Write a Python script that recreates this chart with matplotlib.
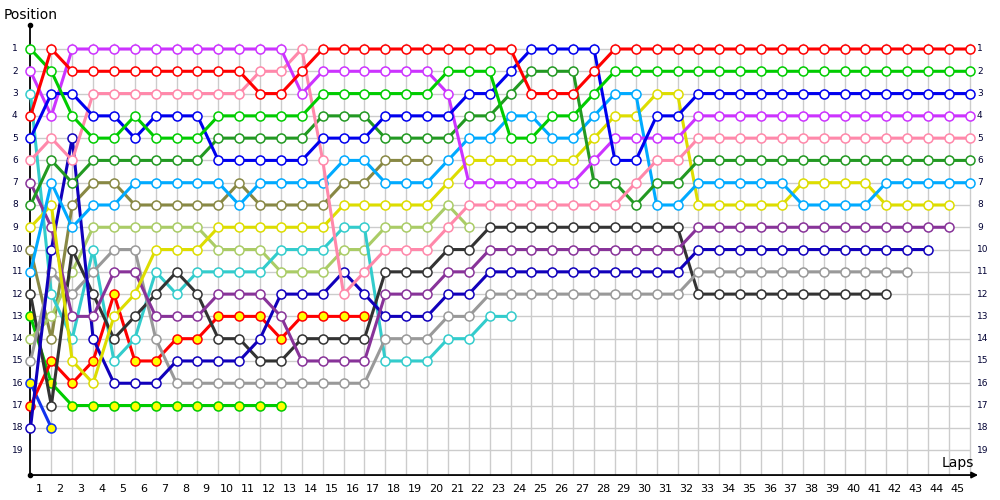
import matplotlib
matplotlib.use('Agg')
import matplotlib.pyplot as plt

# 每位车手每圈的名次（从第 0 圈，即发车顺位开始）
red = [4, 1, 2, 2, 2, 2, 2, 2, 2, 2,
       2, 3, 3, 2, 1, 1, 1, 1, 1, 1,
       1, 1, 1, 1, 3, 3, 3, 2, 1, 1,
       1, 1, 1, 1, 1, 1, 1, 1, 1, 1,
       1, 1, 1, 1, 1, 1]
green = [1, 2, 4, 5, 5, 4, 5, 5, 5, 4,
         4, 4, 4, 4, 3, 3, 3, 3, 3, 3,
         2, 2, 2, 5, 5, 4, 4, 3, 2, 2,
         2, 2, 2, 2, 2, 2, 2, 2, 2, 2,
         2, 2, 2, 2, 2, 2]
blue = [5, 3, 3, 4, 4, 5, 4, 4, 4, 6,
        6, 6, 6, 6, 5, 5, 5, 4, 4, 4,
        4, 3, 3, 2, 1, 1, 1, 1, 6, 6,
        4, 4, 3, 3, 3, 3, 3, 3, 3, 3,
        3, 3, 3, 3, 3, 3]
violet = [2, 4, 1, 1, 1, 1, 1, 1, 1, 1,
          1, 1, 1, 3, 2, 2, 2, 2, 2, 2,
          3, 7, 7, 7, 7, 7, 7, 6, 5, 5,
          5, 5, 4, 4, 4, 4, 4, 4, 4, 4,
          4, 4, 4, 4, 4, 4]
pink = [6, 5, 6, 3, 3, 3, 3, 3, 3, 3,
        3, 2, 2, 1, 6, 12, 11, 10, 10, 10,
        9, 8, 8, 8, 8, 8, 8, 8, 8, 7,
        6, 6, 5, 5, 5, 5, 5, 5, 5, 5,
        5, 5, 5, 5, 5, 5]
dark_green = [8, 6, 7, 6, 6, 6, 6, 6, 6, 5,
              5, 5, 5, 5, 4, 4, 4, 5, 5, 5,
              5, 4, 4, 3, 2, 2, 2, 7, 7, 8,
              7, 7, 6, 6, 6, 6, 6, 6, 6, 6,
              6, 6, 6, 6, 6, 6]
sky = [11, 7, 9, 8, 8, 7, 7, 7, 7, 7,
       8, 7, 7, 7, 7, 6, 6, 7, 7, 7,
       6, 5, 5, 4, 4, 5, 5, 4, 3, 3,
       8, 8, 7, 7, 7, 7, 7, 8, 8, 8,
       8, 7, 7, 7, 7, 7]
yellow = [9, 8, 15, 16, 13, 12, 10, 10, 10, 9,
          9, 9, 9, 9, 9, 8, 8, 8, 8, 8,
          7, 6, 6, 6, 6, 6, 6, 5, 4, 4,
          3, 3, 8, 8, 8, 8, 8, 7, 7, 7,
          7, 8, 8, 8, 8]
dark_purple = [7, 9, 13, 13, 11, 11, 13, 13, 13, 12,
               12, 12, 13, 15, 15, 15, 15, 12, 12, 12,
               11, 11, 10, 10, 10, 10, 10, 10, 10, 10,
               10, 10, 9, 9, 9, 9, 9, 9, 9, 9,
               9, 9, 9, 9, 9]
navy = [18, 10, 5, 14, 16, 16, 16, 15, 15, 15,
        15, 14, 12, 12, 12, 11, 12, 13, 13, 13,
        12, 12, 11, 11, 11, 11, 11, 11, 11, 11,
        11, 11, 10, 10, 10, 10, 10, 10, 10, 10,
        10, 10, 10, 10]
grey = [15, 11, 12, 11, 10, 10, 14, 16, 16, 16,
        16, 16, 16, 16, 16, 16, 16, 14, 14, 14,
        13, 13, 12, 12, 12, 12, 12, 12, 12, 12,
        12, 12, 11, 11, 11, 11, 11, 11, 11, 11,
        11, 11, 11]
dark_grey = [12, 17, 10, 12, 14, 13, 12, 11, 12, 14,
             14, 15, 15, 14, 14, 14, 14, 11, 11, 11,
             10, 10, 9, 9, 9, 9, 9, 9, 9, 9,
             9, 9, 12, 12, 12, 12, 12, 12, 12, 12,
             12, 12]
cyan = [3, 12, 14, 10, 15, 14, 11, 12, 11, 11,
        11, 11, 10, 10, 10, 9, 9, 15, 15, 15,
        14, 14, 13, 13]
light_olive = [14, 13, 11, 9, 9, 9, 9, 9, 9, 10,
               10, 10, 11, 11, 11, 10, 10, 9, 9, 9,
               8, 9]
olive = [10, 14, 8, 7, 7, 8, 8, 8, 8, 8,
         7, 8, 8, 8, 8, 7, 7, 6, 6, 6]
red_y = [17, 15, 16, 15, 12, 15, 15, 14, 14, 13,
         13, 13, 14, 13, 13, 13, 13]
green_y = [13, 16, 17, 17, 17, 17, 17, 17, 17, 17,
           17, 17, 17]
blue_y = [16, 18]

n_laps = 45
n_pos = 19

# (数据, 线色, 标记填充色)，先画的在下层
drivers = [
    (blue_y, '#1133ee', '#ffff00'),
    (green_y, '#00cc00', '#ffff00'),
    (red_y, '#ff0000', '#ffff00'),
    (olive, '#888844', 'white'),
    (light_olive, '#aacc66', 'white'),
    (cyan, '#33cccc', 'white'),
    (dark_grey, '#333333', 'white'),
    (grey, '#999999', 'white'),
    (navy, '#1100bb', 'white'),
    (dark_purple, '#883399', 'white'),
    (yellow, '#dddd00', 'white'),
    (sky, '#00aaff', 'white'),
    (dark_green, '#229922', 'white'),
    (pink, '#ff88aa', 'white'),
    (violet, '#cc33ff', 'white'),
    (blue, '#0000ee', 'white'),
    (green, '#00cc00', 'white'),
    (red, '#ff0000', 'white'),
]

fig = plt.figure(figsize=(10, 5), dpi=100)
ax = fig.add_axes([0, 0, 1, 1])
ax.set_xlim(-1.461, 46.45)
ax.set_ylim(21.24, -1.199)
ax.axis('off')

# 网格
ax.hlines(range(1, n_pos + 1), 0, n_laps, color='#cccccc', lw=1, zorder=0)
ax.vlines(range(1, n_laps + 1), 0.73, 20.12, color='#cccccc', lw=1, zorder=0)

# 坐标轴
ax.plot([0, 0], [20.12, -0.08], color='black', lw=1.3, zorder=1)
ax.plot([0, 0], [-0.08, 20.12], 'o', color='black', ms=3, zorder=1)
ax.annotate('', xy=(45.4, 20.12), xytext=(0, 20.12),
            arrowprops=dict(arrowstyle='-|>', color='black', lw=1.3,
                            mutation_scale=9, shrinkA=0, shrinkB=0))

for lap in range(1, n_laps + 1):
    ax.text(lap - 0.58, 20.75, str(lap), ha='center', va='center', fontsize=8)
for p in range(1, n_pos + 1):
    ax.text(-0.886, p, str(p), ha='left', va='center', fontsize=6.5,
            color='#000033')
    ax.text(45.35, p, str(p), ha='left', va='center', fontsize=6.5,
            color='#000033')

ax.text(-1.27, -0.52, 'Position', ha='left', va='center', fontsize=10)
ax.text(45.2, 19.6, 'Laps', ha='right', va='center', fontsize=10)

for z, (pos, color, face) in enumerate(drivers):
    laps = list(range(len(pos)))
    ax.plot(laps, pos, '-', color=color, lw=2.2, zorder=2 + z,
            solid_joinstyle='round', solid_capstyle='round')
    ax.plot(laps, pos, 'o', ms=6.5, mfc=face, mec=color, mew=1.1,
            zorder=2 + z)

fig.savefig('out.png', dpi=100)
